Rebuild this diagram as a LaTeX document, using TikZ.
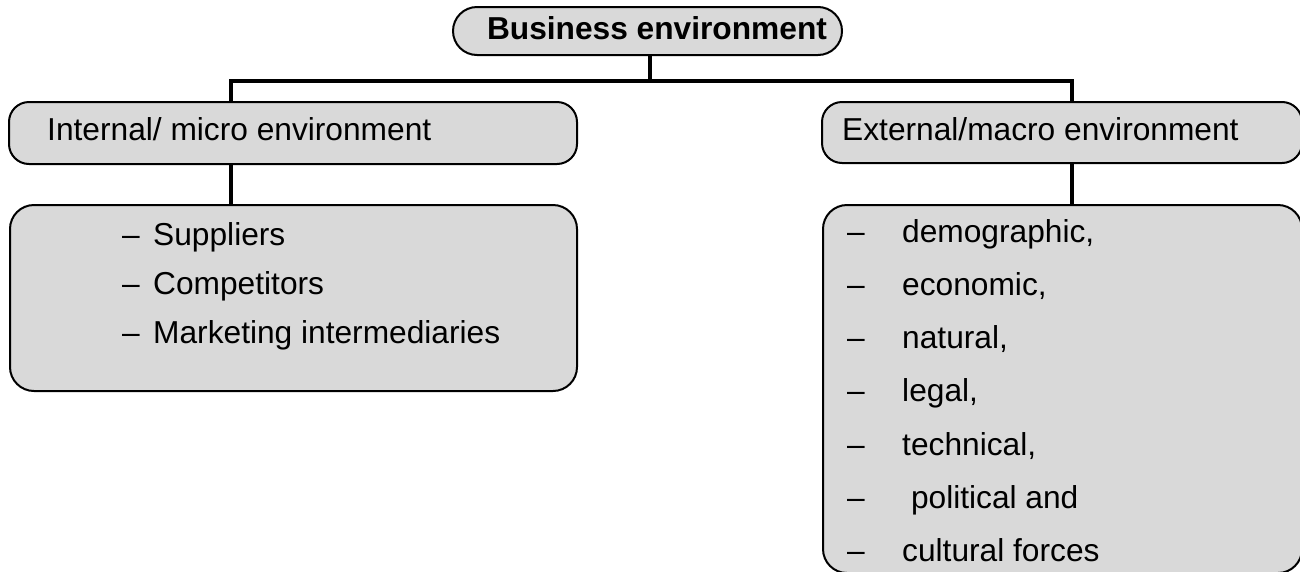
\documentclass[tikz,border=0pt]{standalone}
\usepackage{fontspec}
\setmainfont{Liberation Sans}
\definecolor{boxgray}{HTML}{D9D9D9}
\begin{document}
\begin{tikzpicture}
[ x=1pt, y=-1pt
, every node/.style={font=\fontsize{31.7}{38}\selectfont}
, box/.style={rectangle, draw, line width=2pt, fill=boxgray, inner sep=0pt}
, title/.style={box, rounded corners=24pt}
, header/.style={box, rounded corners=20pt}
, listbox/.style={box, rounded corners=24pt}
, item/.style={anchor=base west, inner sep=0pt}
, link/.style={line width=3.5pt, line join=miter}
]
\useasboundingbox (0,0) rectangle (1300,571);
% Boxes:
\node (business) [title, minimum width=389pt, minimum height=48pt] at (647.5,31) {};
\node (internal) [header, minimum width=568pt, minimum height=62pt] at (293,133) {};
\node (external) [header, minimum width=480pt, minimum height=61pt] at (1062,132.5) {};
\node (intlist) [listbox, minimum width=567pt, minimum height=186pt] at (293.5,298) {};
\node (extlist) [listbox, minimum width=479pt, minimum height=368pt] at (1062.5,389) {};
% Texts:
\node (businesstxt) [anchor=base, inner sep=0pt, font=\fontsize{31.7}{38}\selectfont\bfseries] at (657,39) {Business environment};
\node (internaltxt) [item] at (47,140) {Internal/ micro environment};
\node (externaltxt) [item] at (842,140) {External/macro environment};
\foreach \txt [count=\i] in {Suppliers, Competitors, Marketing intermediaries} {
  \node (intdash\i) [item] at (122,196+49*\i) {–};
  \node (intitem\i) [item] at (153,196+49*\i) {\txt};
}
\foreach \txt [count=\i] in {{demographic,}, {economic,}, {natural,}, {legal,}, {technical,}, {\ political and}, {cultural forces}} {
  \node (extdash\i) [item] at (847,188.7+53.3*\i) {–};
  \node (extitem\i) [item] at (902,188.7+53.3*\i) {\txt};
}
% Links:
\coordinate (busl) at (231,81);
\coordinate (busm) at (650,81);
\coordinate (busr) at (1072,81);
\draw [link] (busm |- business.south) -- (busm);
\draw [link] (busl |- internal.north) -- (busl) -- (busr) -- (busr |- external.north);
\draw [link] (busl |- internal.south) -- (busl |- intlist.north);
\draw [link] (busr |- external.south) -- (busr |- extlist.north);
\end{tikzpicture}
\end{document}
